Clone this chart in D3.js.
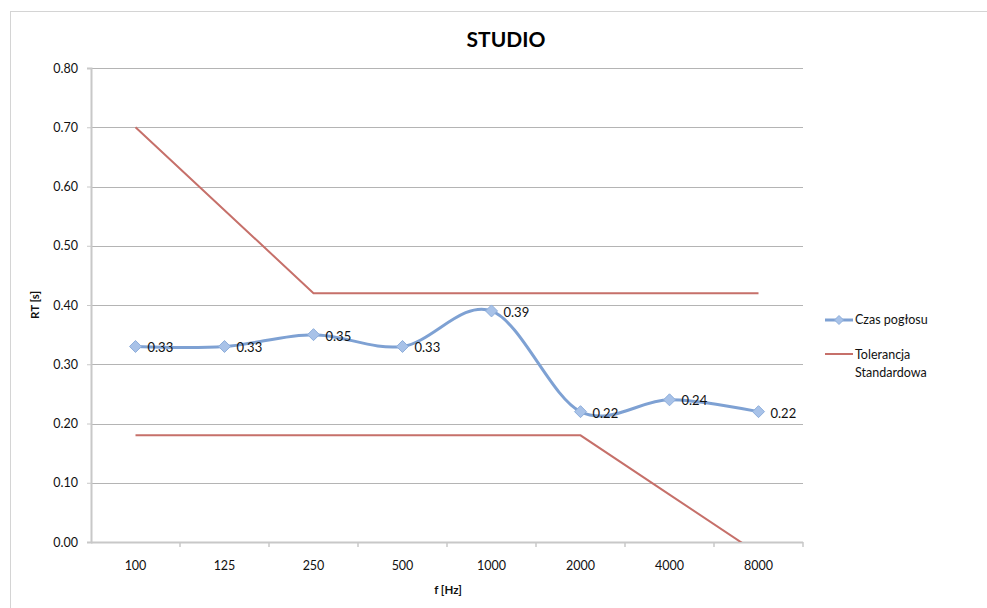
<!DOCTYPE html>
<html>
<head>
<meta charset="utf-8">
<script src="https://cdn.jsdelivr.net/npm/d3@7"></script>
<style>
  html, body { margin: 0; padding: 0; background: #fff; }
  svg { display: block; font-family: Lato, "Open Sans", sans-serif; }
</style>
</head>
<body>
<svg id="chart" width="987" height="608"></svg>
<script>
// Frequency bands (category axis)
const frequencies = ["100", "125", "250", "500", "1000", "2000", "4000", "8000"];
// Measured reverberation time per band
const reverbTime = [0.33, 0.33, 0.35, 0.33, 0.39, 0.22, 0.24, 0.22];
// Standard tolerance band: upper and lower limits
const toleranceUpper = [0.70, 0.56, 0.42, 0.42, 0.42, 0.42, 0.42, 0.42];
const toleranceLower = [0.18, 0.18, 0.18, 0.18, 0.18, 0.18, 0.08, -0.02];
// Value axis ticks
const yTicks = [0, 0.1, 0.2, 0.3, 0.4, 0.5, 0.6, 0.7, 0.8];

const seriesNames = ["Czas pogłosu", ["Tolerancja", "Standardowa"]];
const blue = "#7ea1d3", blueFill = "#a8c2e8", red = "#c6706a";

const svg = d3.select("#chart");
const plot = { left: 91, right: 803, top: 68, bottom: 542 };

// outer chart frame
svg.append("rect").attr("x", 10.5).attr("y", 11.5).attr("width", 1000).attr("height", 700)
  .attr("fill", "none").attr("stroke", "#d4d4d4").attr("stroke-width", 1);

const x = d3.scaleBand().domain(frequencies).range([plot.left, plot.right]);
const y = d3.scaleLinear().domain([0, 0.8]).range([plot.bottom, plot.top]);
const cx = d => x(d) + x.bandwidth() / 2;

svg.append("defs").append("clipPath").attr("id", "plotClip")
  .append("rect").attr("x", plot.left).attr("y", plot.top)
  .attr("width", plot.right - plot.left).attr("height", plot.bottom - plot.top);

// horizontal gridlines
svg.append("g").selectAll("line").data(yTicks.filter(t => t > 0)).join("line")
  .attr("x1", plot.left).attr("x2", plot.right)
  .attr("y1", d => Math.round(y(d)) + 0.5).attr("y2", d => Math.round(y(d)) + 0.5)
  .attr("stroke", "#b4b4b4").attr("stroke-width", 1);

// value axis
const yAxis = svg.append("g").attr("transform", `translate(${plot.left},0)`)
  .call(d3.axisLeft(y).tickValues(yTicks).tickFormat(d3.format(".2f")).tickSize(4).tickPadding(9));
yAxis.select(".domain").attr("stroke", "#c8c8c8").attr("stroke-width", 2);
yAxis.selectAll(".tick line").attr("stroke", "#c8c8c8");
yAxis.selectAll(".tick text").attr("font-size", 12.5).attr("fill", "#111").attr("font-family", "Lato, sans-serif");

// category axis with ticks between bands
const xAxisG = svg.append("g").attr("transform", `translate(0,${plot.bottom})`);
xAxisG.append("line").attr("x1", plot.left).attr("x2", plot.right).attr("y1", 0.5).attr("y2", 0.5)
  .attr("stroke", "#c8c8c8").attr("stroke-width", 2);
xAxisG.selectAll(".sep").data(frequencies.slice(1).concat(["end"])).join("line")
  .attr("x1", (d, i) => plot.left + (i + 1) * x.bandwidth())
  .attr("x2", (d, i) => plot.left + (i + 1) * x.bandwidth())
  .attr("y1", 0).attr("y2", 5).attr("stroke", "#c8c8c8").attr("stroke-width", 1.5);
xAxisG.selectAll("text").data(frequencies).join("text")
  .attr("x", d => cx(d)).attr("y", 28).attr("text-anchor", "middle")
  .attr("font-size", 12.5).attr("fill", "#111").text(d => d);

// tolerance lines
const straight = d3.line().x((d, i) => cx(frequencies[i])).y(d => y(d));
const tol = svg.append("g").attr("clip-path", "url(#plotClip)");
[toleranceUpper, toleranceLower].forEach(s => {
  tol.append("path").attr("d", straight(s)).attr("fill", "none")
    .attr("stroke", red).attr("stroke-width", 2);
});

// measured reverberation time, smoothed
const smooth = d3.line().x((d, i) => cx(frequencies[i])).y(d => y(d)).curve(d3.curveCatmullRom.alpha(0));
svg.append("path").attr("d", smooth(reverbTime)).attr("fill", "none")
  .attr("stroke", blue).attr("stroke-width", 3);

const diamond = s => `M0,${-s}L${s},0L0,${s}L${-s},0Z`;
svg.append("g").selectAll("path").data(reverbTime).join("path")
  .attr("transform", (d, i) => `translate(${cx(frequencies[i])},${y(d)})`)
  .attr("d", diamond(6)).attr("fill", blueFill).attr("stroke", "#8eaedb").attr("stroke-width", 1);

svg.append("g").selectAll("text").data(reverbTime).join("text")
  .attr("x", (d, i) => cx(frequencies[i]) + 12)
  .attr("y", (d, i) => y(d) + (i === 6 ? 5 : 6))
  .attr("font-size", 13).attr("fill", "#111").text(d => d.toFixed(2));

// titles
svg.append("text").attr("x", 506).attr("y", 47).attr("text-anchor", "middle")
  .attr("font-size", 21).attr("font-weight", "bold").attr("fill", "#000").text("STUDIO");
svg.append("text").attr("x", 448).attr("y", 594).attr("text-anchor", "middle")
  .attr("font-size", 11.5).attr("font-weight", "bold").attr("fill", "#111").text("f [Hz]");
svg.append("text").attr("transform", "translate(39,305) rotate(-90)").attr("text-anchor", "middle")
  .attr("font-size", 11.5).attr("font-weight", "bold").attr("fill", "#111").text("RT [s]");

// legend
const lg = svg.append("g");
lg.append("line").attr("x1", 825).attr("x2", 853).attr("y1", 320).attr("y2", 320)
  .attr("stroke", blue).attr("stroke-width", 3);
lg.append("path").attr("transform", "translate(839,320)").attr("d", diamond(4.5))
  .attr("fill", blueFill).attr("stroke", "#8eaedb");
lg.append("text").attr("x", 855).attr("y", 324).attr("font-size", 12.5).attr("fill", "#111").text(seriesNames[0]);
lg.append("line").attr("x1", 825).attr("x2", 853).attr("y1", 354).attr("y2", 354)
  .attr("stroke", red).attr("stroke-width", 2);
lg.append("text").attr("x", 855).attr("y", 359).attr("font-size", 12.5).attr("fill", "#111")
  .selectAll("tspan").data(seriesNames[1]).join("tspan")
  .attr("x", 855).attr("dy", (d, i) => i ? 18 : 0).text(d => d);
</script>
</body>
</html>
